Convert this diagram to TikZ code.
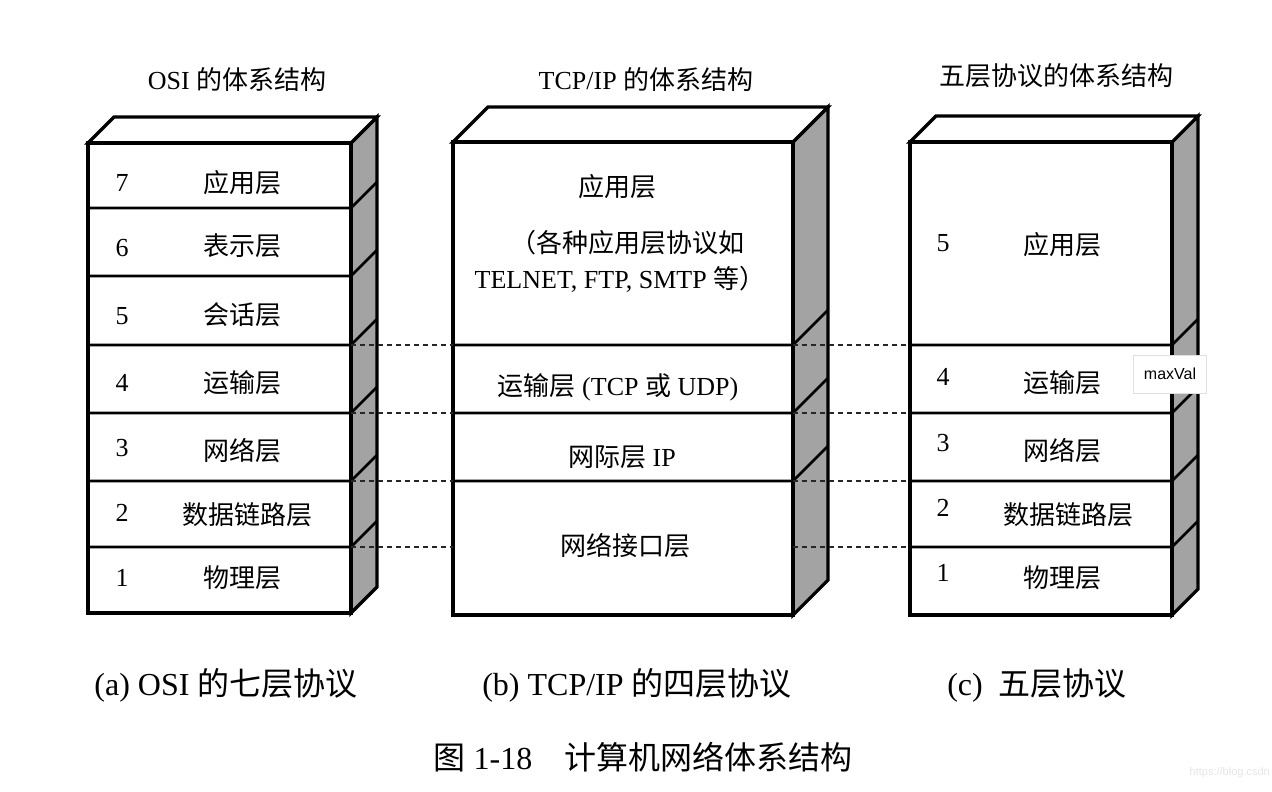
\documentclass[tikz,border=0pt]{standalone}
\usepackage{fontspec}
\setmainfont{Liberation Serif}
\newfontfamily\cjk{Noto Sans CJK SC}
\newfontfamily\uifont{Liberation Sans}
\newcommand{\zh}[1]{{\cjk #1}}
\usetikzlibrary{positioning}
\tikzset{
  topface/.style={draw=black, line width=3.2pt, fill=white, line join=miter},
  sideface/.style={draw=black, line width=3.2pt, fill=black!36, line join=miter},
  layerline/.style={line width=2.8pt},
  peerline/.style={draw=black!85, line width=1.3pt, dash pattern=on 5pt off 4pt},
  layertext/.style={font=\fontsize{26}{30}\selectfont, inner sep=0pt},
  titletext/.style={font=\fontsize{26}{30}\selectfont, inner sep=0pt},
  captext/.style={font=\fontsize{32}{35}\selectfont, inner sep=0pt},
  tipbox/.style={draw=black!12, fill=white, minimum width=73pt, minimum height=38pt, font=\uifont\fontsize{16}{18}\selectfont},
}

\begin{document}
\begin{tikzpicture}[x=1pt, y=-1pt]
    \useasboundingbox (0,0) rectangle (1272,792);
    % OSI box
    \filldraw[sideface] (351,143) -- (377,117) -- (377,587) -- (351,613) -- cycle;
    \filldraw[topface] (88,143) -- (114,117) -- (377,117) -- (351,143) -- cycle;
    \filldraw[topface] (88,143) rectangle (351,613);
    \foreach \y in {208,276,345,413,481,547}
        \draw[layerline] (88,\y) -- (351,\y) -- ++(26,-26);
    % TCP/IP box
    \filldraw[sideface] (793,142) -- (828,107) -- (828,580) -- (793,615) -- cycle;
    \filldraw[topface] (453,142) -- (488,107) -- (828,107) -- (793,142) -- cycle;
    \filldraw[topface] (453,142) rectangle (793,615);
    \foreach \y in {345,413,481}
        \draw[layerline] (453,\y) -- (793,\y) -- ++(35,-35);
    % five layer box
    \filldraw[sideface] (1172,142) -- (1198,116) -- (1198,589) -- (1172,615) -- cycle;
    \filldraw[topface] (910,142) -- (936,116) -- (1198,116) -- (1172,142) -- cycle;
    \filldraw[topface] (910,142) rectangle (1172,615);
    \foreach \y in {345,413,481,547}
        \draw[layerline] (910,\y) -- (1172,\y) -- ++(26,-26);

    % boundary points for the peer lines
    \coordinate (osiR4) at (351,345);
    \coordinate (osiR3) at (351,413);
    \coordinate (osiR2) at (351,481);
    \coordinate (osiR1) at (351,547);
    \coordinate (tcpL4) at (453,345);
    \coordinate (tcpL3) at (453,413);
    \coordinate (tcpL2) at (453,481);
    \coordinate (tcpL1) at (453,547);
    \coordinate (tcpR4) at (793,345);
    \coordinate (tcpR3) at (793,413);
    \coordinate (tcpR2) at (793,481);
    \coordinate (tcpR1) at (793,547);
    \coordinate (fivL4) at (910,345);
    \coordinate (fivL3) at (910,413);
    \coordinate (fivL2) at (910,481);
    \coordinate (fivL1) at (910,547);
    \draw[peerline] (osiR4) -- (tcpL4);
    \draw[peerline] (osiR3) -- (tcpL3);
    \draw[peerline] (osiR2) -- (tcpL2);
    \draw[peerline] (osiR1) -- (tcpL1);
    \draw[peerline] (tcpR4) -- (fivL4);
    \draw[peerline] (tcpR3) -- (fivL3);
    \draw[peerline] (tcpR2) -- (fivL2);
    \draw[peerline] (tcpR1) -- (fivL1);

    % OSI layers
    \node[layertext] (osin7) at (122,183) {7};
    \node[layertext] (osin6) at (122,248) {6};
    \node[layertext] (osin5) at (122,316) {5};
    \node[layertext] (osin4) at (122,383) {4};
    \node[layertext] (osin3) at (122,448) {3};
    \node[layertext] (osin2) at (122,513) {2};
    \node[layertext] (osin1) at (122,578) {1};
    \node[layertext] (osi7) at (242,183) {\zh{应用层}};
    \node[layertext] (osi6) at (242,246) {\zh{表示层}};
    \node[layertext] (osi5) at (242,315) {\zh{会话层}};
    \node[layertext] (osi4) at (242,383) {\zh{运输层}};
    \node[layertext] (osi3) at (242,451) {\zh{网络层}};
    \node[layertext] (osi2) at (247,515) {\zh{数据链路层}};
    \node[layertext] (osi1) at (242,578) {\zh{物理层}};

    % TCP/IP layers
    \node[layertext] (tcp4) at (617,187) {\zh{应用层}};
    \node[layertext] (tcp4a) at (627,243) {\zh{（各种应用层协议如}};
    \node[layertext] (tcp4b) at (620,279) {TELNET, FTP, SMTP \zh{等）}};
    \node[layertext] (tcp3) at (618,387) {\zh{运输层} (TCP \zh{或} UDP)};
    \node[layertext] (tcp2) at (622,457) {\zh{网际层} IP};
    \node[layertext] (tcp1) at (625,546) {\zh{网络接口层}};

    % five layers
    \node[layertext] (fivn5) at (943,243) {5};
    \node[layertext] (fivn4) at (943,377) {4};
    \node[layertext] (fivn3) at (943,443) {3};
    \node[layertext] (fivn2) at (943,508) {2};
    \node[layertext] (fivn1) at (943,573) {1};
    \node[layertext] (fiv5) at (1062,245) {\zh{应用层}};
    \node[layertext] (fiv4) at (1062,383) {\zh{运输层}};
    \node[layertext] (fiv3) at (1062,451) {\zh{网络层}};
    \node[layertext] (fiv2) at (1068,515) {\zh{数据链路层}};
    \node[layertext] (fiv1) at (1062,578) {\zh{物理层}};

    % titles and captions
    \node[titletext] (osititle) at (237,80) {OSI \zh{的体系结构}};
    \node[titletext] (tcptitle) at (646,80) {TCP/IP \zh{的体系结构}};
    \node[titletext] (fivtitle) at (1056,76) {\zh{五层协议的体系结构}};
    \node[captext] (osicap) at (226,685) {(a) OSI \zh{的七层协议}};
    \node[captext] (tcpcap) at (637,685) {(b) TCP/IP \zh{的四层协议}};
    \node[captext] (fivcap) at (1037,685) {(c)\enspace\zh{五层协议}};
    \node[captext] (figcap) at (643,757) {\zh{图} 1-18\quad\zh{计算机网络体系结构}};

    % overlay tip and watermark
    \node[tipbox] (tip) at (1170,374) {maxVal};
    \node[font=\uifont\fontsize{11}{13}\selectfont, text=black!10, anchor=east, inner sep=0pt] (mark) at (1270,773) {https://blog.csdn};
\end{tikzpicture}
\end{document}
